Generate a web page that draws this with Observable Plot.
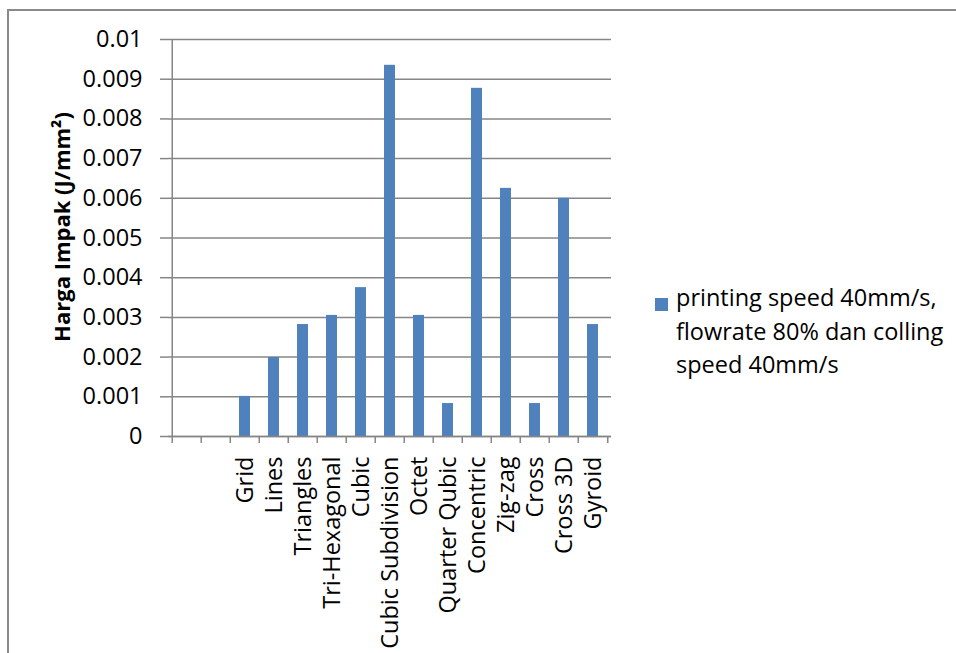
<!DOCTYPE html>
<html><head><meta charset="utf-8">
<script src="https://cdn.jsdelivr.net/npm/d3@7"></script>
<script src="https://cdn.jsdelivr.net/npm/@observablehq/plot@0.6"></script>
<style>
html,body{margin:0;padding:0;background:#fff;overflow:hidden;}
#wrap{position:relative;width:956px;height:653px;overflow:hidden;font-family:"Open Sans",sans-serif;}
#frame{position:absolute;left:7px;top:9px;width:1000px;height:1000px;border:2px solid #8a8a8a;box-sizing:border-box;}
#chart{position:absolute;left:0;top:0;}
#legend{position:absolute;left:655px;top:281px;font-size:23.5px;line-height:33.5px;color:#000;}
#legend .sw{position:absolute;left:0;top:17px;width:13px;height:13px;background:#4F81BD;}
#legend .tx{margin-left:21px;white-space:nowrap;}
</style></head>
<body>
<div id="wrap">
<div id="frame"></div>
<div id="chart"></div>
<div id="legend"><div class="sw"></div><div class="tx" id="legendText"></div></div>
</div>
<script>
const categories = ["", " ", "Grid", "Lines", "Triangles", "Tri-Hexagonal", "Cubic", "Cubic Subdivision", "Octet", "Quarter Qubic", "Concentric", "Zig-zag", "Cross", "Cross 3D", "Gyroid"];
const impact = [null, null, 0.00101, 0.00199, 0.00282, 0.00305, 0.00375, 0.00935, 0.00305, 0.00083, 0.00877, 0.00625, 0.00083, 0.0060, 0.00282];
const yTicks = [0, 0.001, 0.002, 0.003, 0.004, 0.005, 0.006, 0.007, 0.008, 0.009, 0.01];
const yTickLabels = ["0", "0.001", "0.002", "0.003", "0.004", "0.005", "0.006", "0.007", "0.008", "0.009", "0.01"];
const yLabel = "Harga Impak (J/mm²)";
const seriesLines = ["printing speed 40mm/s,", "flowrate 80% dan colling", "speed 40mm/s"];

document.getElementById("legendText").innerHTML = seriesLines.join("<br>");

const data = categories.map((c, i) => ({c, v: impact[i]})).filter(d => d.v != null);

const W = 956, H = 653, mL = 168, mR = 345, mT = 39, mB = 217;
const step = (W - mL - mR) / categories.length;
const barW = 11.5;
const gridColor = "#868686";
const fs = 23.5;

const chart = Plot.plot({
  width: W, height: H,
  marginLeft: mL, marginRight: mR, marginTop: mT, marginBottom: mB,
  style: {fontFamily: "'Open Sans', sans-serif", fontSize: fs + "px", color: "#000", background: "transparent", overflow: "visible"},
  x: {type: "band", domain: categories, padding: 0},
  y: {domain: [0, 0.01]},
  marks: [
    Plot.gridY(yTicks, {stroke: gridColor, strokeOpacity: 1, strokeWidth: 1.5}),
    Plot.barY(data, {x: "c", y: "v", fill: "#4F81BD", insetLeft: (step - barW) / 2, insetRight: (step - barW) / 2}),
    Plot.ruleY([0], {stroke: gridColor, strokeWidth: 1.5}),
    Plot.ruleX([categories[0]], {x: d => d, y1: 0, y2: 0.01, dx: -step / 2, stroke: gridColor, strokeWidth: 1.5}),
    Plot.ruleX(categories, {x: d => d, y1: 0, y2: 0, insetBottom: -7, dx: -step / 2, stroke: gridColor, strokeWidth: 1.5}),
    Plot.ruleX([categories[categories.length - 1]], {x: d => d, y1: 0, y2: 0, insetBottom: -7, dx: step / 2, stroke: gridColor, strokeWidth: 1.5}),
    Plot.axisY(yTicks, {tickSize: 8, tickPadding: 18, tickFormat: d => yTickLabels[yTicks.indexOf(d)], stroke: gridColor, strokeWidth: 1.5, label: null}),
    Plot.axisX(categories, {tickSize: 0, tickPadding: 20, tickRotate: -90, label: null}),
    Plot.text([yLabel], {text: d => d, frameAnchor: "left", textAnchor: "middle", dx: -106, dy: -11, rotate: -90, fontWeight: "bold", fontSize: 22, fill: "#000"})
  ]
});
document.getElementById("chart").appendChild(chart);
</script>
</body></html>
